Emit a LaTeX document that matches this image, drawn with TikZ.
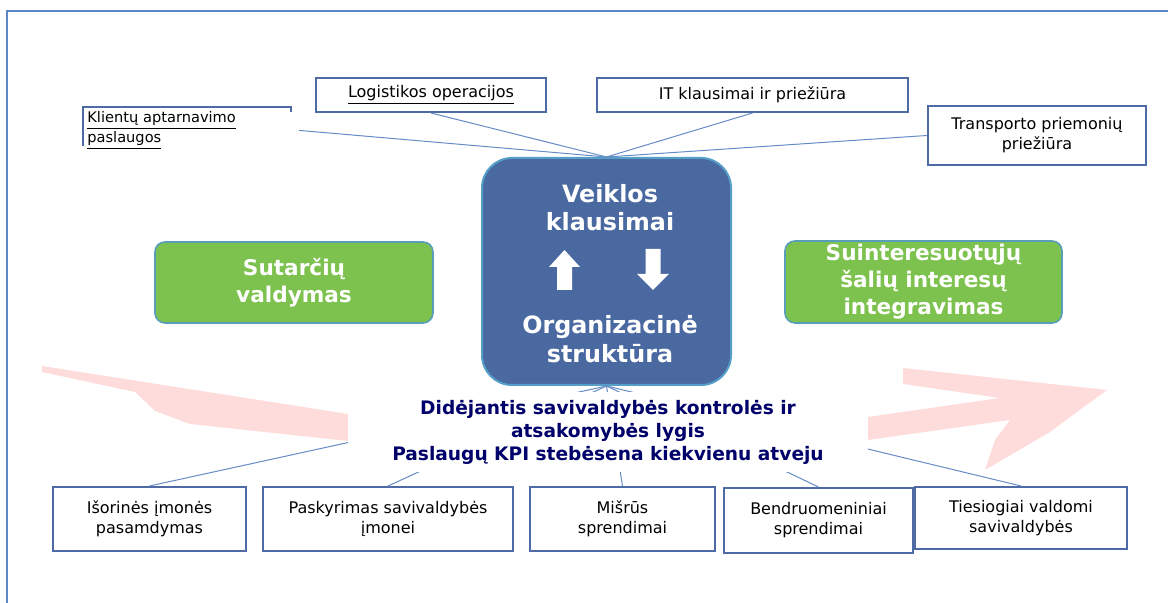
\documentclass[tikz,border=0pt]{standalone}
\usepackage{fontspec}
\setmainfont{DejaVu Sans}
\usepackage{tikz}
\usepackage{color}

\begin{document}
\begin{tikzpicture}[x=1pt,y=1pt,
  plainbox/.style={draw=boxColor,line width=1pt,fill=white,inner sep=0pt,align=center,text=black,font=\fontsize{8}{10}\selectfont},
  greenbox/.style={draw=greenEdge,line width=0.8pt,fill=greenColor,rounded corners=5pt,inner sep=0pt,align=center,text=white,font=\fontsize{10.8}{13.5}\selectfont\bfseries},
  bluetext/.style={text=white,inner sep=0pt,align=center,font=\fontsize{11.9}{14.3}\selectfont\bfseries},
  link/.style={draw=linkColor,line width=0.5pt},
  pinkstroke/.style={fill=pinkColor,fill opacity=0.45,draw=none}]
\definecolor[named]{fillColor}{rgb}{1.00,1.00,1.00}
\definecolor[named]{frameColor}{rgb}{0.36,0.53,0.78}
\definecolor[named]{boxColor}{rgb}{0.31,0.42,0.65}
\definecolor[named]{linkColor}{rgb}{0.40,0.55,0.78}
\definecolor[named]{blueColor}{rgb}{0.29,0.41,0.63}
\definecolor[named]{blueEdge}{rgb}{0.33,0.62,0.78}
\definecolor[named]{greenColor}{rgb}{0.49,0.76,0.31}
\definecolor[named]{greenEdge}{rgb}{0.35,0.62,0.72}
\definecolor[named]{navyColor}{rgb}{0.00,0.00,0.42}
\definecolor[named]{pinkColor}{rgb}{1.00,0.70,0.70}
\path[use as bounding box,fill=fillColor] (0,0) rectangle (584.00,301.50);

% frame
\path[draw=frameColor,line width=1.2pt] (  3.50,  0.00) -- (  3.50,296.00) -- (584.00,296.00);

% pink strokes behind the text
\path[pinkstroke] ( 21.00,118.50) -- (174.00, 94.50) -- (174.00, 81.00) -- ( 95.00, 89.50) --
  ( 77.50, 96.00) -- ( 67.50,105.50) -- ( 21.00,115.50) -- cycle;
\path[pinkstroke] (451.50,117.50) -- (553.50,106.50) -- (525.00, 85.50) -- (492.50, 66.50) --
  (497.50, 81.50) -- (505.00, 91.50) -- (434.00, 81.50) -- (434.00, 93.00) --
  (500.00,102.50) -- (451.50,109.50) -- cycle;

% central box
\node[draw=blueEdge,line width=1pt,fill=blueColor,rounded corners=15pt,
minimum width=124.5pt,minimum height=113.5pt,inner sep=0pt] (veikla) at (303.25,165.75) {};
\node[bluetext] (klausimai) at (305.00,197.75) {Veiklos\\klausimai};
\node[bluetext] (struktura) at (305.00,132.00) {Organizacinė\\struktūra};
\path[fill=white] (278.50,156.50) -- (278.50,168.00) -- (274.50,168.00) -- (282.25,176.50) --
  (290.00,168.00) -- (286.00,168.00) -- (286.00,156.50) -- cycle;
\path[fill=white] (322.75,177.00) -- (322.75,164.50) -- (318.50,164.50) -- (326.50,156.50) --
  (334.50,164.50) -- (330.25,164.50) -- (330.25,177.00) -- cycle;

% top boxes
\node[plainbox,minimum width=115pt,minimum height=17pt] (logistika) at (215.50,254.00)
  {\underline{Logistikos operacijos}};
\node[plainbox,minimum width=155.5pt,minimum height=17pt] (it) at (376.25,254.00)
  {IT klausimai ir priežiūra};
\node[plainbox,minimum width=109pt,minimum height=29.5pt] (transportas) at (518.50,233.75)
  {Transporto priemonių\\priežiūra};
\node[anchor=north west,inner xsep=2pt,inner ysep=0pt,text width=99.5pt,minimum height=23pt,
align=left,font=\fontsize{7.3}{9}\selectfont] (klientai) at ( 41.50,248.00)
  {\underline{Klientų aptarnavimo}\\\underline{paslaugos}};
\path[draw=boxColor,line width=1pt] ([yshift=-2.5pt]klientai.north east) -- (klientai.north east) --
  (klientai.north west) -- ([yshift=4pt]klientai.south west);

\path[link] ([xshift=4pt]klientai.east) -- (veikla.north);
\path[link] (logistika.south) -- (veikla.north);
\path[link] (it.south) -- (veikla.north);
\path[link] (transportas.west) -- (veikla.north);

% side boxes
\node[greenbox,minimum width=139pt,minimum height=40.5pt] (sutartys) at (147.00,160.25)
  {Sutarčių\\valdymas};
\node[greenbox,minimum width=138.5pt,minimum height=41pt] (interesai) at (461.75,160.50)
  {Suinteresuotųjų\\šalių interesų\\integravimas};

% bottom boxes
\node[plainbox,minimum width=96.5pt,minimum height=32pt] (isorine) at ( 74.75, 42.00)
  {Išorinės įmonės\\pasamdymas};
\node[plainbox,minimum width=125pt,minimum height=32pt] (paskyrimas) at (194.00, 42.00)
  {Paskyrimas savivaldybės\\įmonei};
\node[plainbox,minimum width=92.5pt,minimum height=32pt] (misrus) at (311.25, 42.00)
  {Mišrūs\\sprendimai};
\node[plainbox,minimum width=94.5pt,minimum height=32.5pt] (bendruomene) at (409.25, 41.25)
  {Bendruomeniniai\\sprendimai};
\node[plainbox,minimum width=106pt,minimum height=31pt] (tiesiogiai) at (510.50, 42.50)
  {Tiesiogiai valdomi\\savivaldybės};

\foreach \b in {isorine,paskyrimas,misrus,bendruomene,tiesiogiai}
  \path[link] (veikla.south) -- (\b.north);

% text over the links
\node[fill=white,inner sep=0pt,minimum width=260pt,minimum height=40pt,align=center,
text=navyColor,font=\fontsize{9.3}{11.5}\selectfont\bfseries] (kontrole) at (304.00, 85.50)
  {Didėjantis savivaldybės kontrolės ir\\atsakomybės lygis\\Paslaugų KPI stebėsena kiekvienu atveju};
\end{tikzpicture}
\end{document}
